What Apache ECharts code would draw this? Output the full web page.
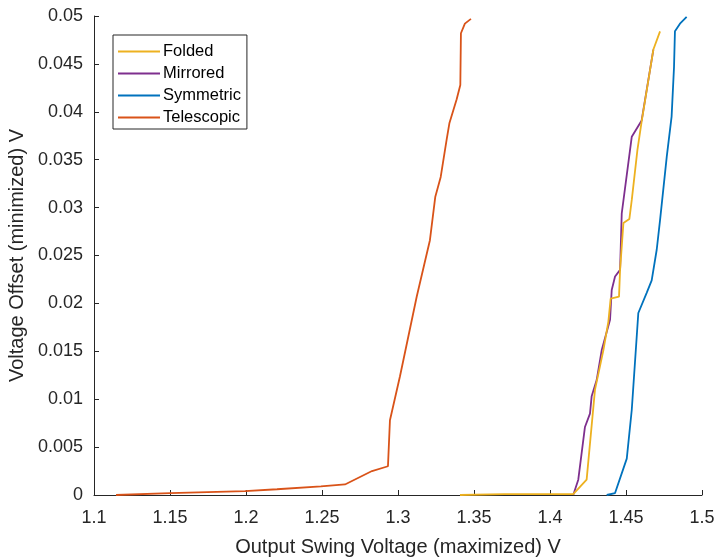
<!DOCTYPE html>
<html>
<head>
<meta charset="utf-8">
<script src="https://cdn.jsdelivr.net/npm/echarts@6/dist/echarts.min.js"></script>
<style>html,body{margin:0;padding:0;background:#fff}#c{width:717px;height:558px}</style>
</head>
<body>
<div id="c"></div>
<script>
const seriesNames = ['Folded', 'Mirrored', 'Symmetric', 'Telescopic'];
const seriesColors = ['#EDB120', '#7E2F8E', '#0072BD', '#D95319'];
const xTicks = [1.1, 1.15, 1.2, 1.25, 1.3, 1.35, 1.4, 1.45, 1.5];
const yTicks = [0, 0.005, 0.01, 0.015, 0.02, 0.025, 0.03, 0.035, 0.04, 0.045, 0.05];

const folded = [
  [1.3408, 0], [1.3700, 0.0001], [1.4153, 0.0001], [1.4241, 0.0016], [1.4296, 0.0110],
  [1.4351, 0.0151], [1.4384, 0.0181], [1.4399, 0.0205], [1.4454, 0.0207], [1.4461, 0.0235],
  [1.4483, 0.0284], [1.4522, 0.0288], [1.4538, 0.0308], [1.4575, 0.0360], [1.4603, 0.0390],
  [1.4680, 0.0465], [1.4724, 0.0484]
];
const mirrored = [
  [1.4153, 0], [1.4186, 0.0016], [1.4230, 0.0071], [1.4263, 0.0085], [1.4274, 0.0103],
  [1.4307, 0.0120], [1.4340, 0.0151], [1.4395, 0.0183], [1.4406, 0.0214], [1.4428, 0.0228],
  [1.4461, 0.0235], [1.4472, 0.0294], [1.4538, 0.0374], [1.4603, 0.0391], [1.4680, 0.0465]
];
const symmetric = [
  [1.4373, 0], [1.4428, 0.0002], [1.4505, 0.0038], [1.4538, 0.0089], [1.4581, 0.0190],
  [1.4636, 0.0211], [1.4669, 0.0224], [1.4702, 0.0256], [1.4724, 0.0287], [1.4768, 0.0353],
  [1.4800, 0.0395], [1.4816, 0.0447], [1.4822, 0.0484], [1.4855, 0.0492], [1.4899, 0.0499]
];
const telescopic = [
  [1.1145, 0], [1.1500, 0.0002], [1.1993, 0.0004], [1.2204, 0.0006], [1.2493, 0.0009],
  [1.2651, 0.0011], [1.2829, 0.0025], [1.2934, 0.0030], [1.2947, 0.0078], [1.3013, 0.0124],
  [1.3123, 0.0207], [1.3210, 0.0266], [1.3245, 0.0311], [1.3281, 0.0332], [1.3320, 0.0371],
  [1.3338, 0.0388], [1.3386, 0.0413], [1.3410, 0.0428], [1.3414, 0.0482], [1.3440, 0.0492],
  [1.3480, 0.0497]
];
const allData = [folded, mirrored, symmetric, telescopic];

const chart = echarts.init(document.getElementById('c'), null, {renderer: 'canvas'});
const axisColor = '#262626';
const font = '"Liberation Sans", Arial, sans-serif';

chart.setOption({
  animation: false,
  backgroundColor: '#fff',
  grid: {left: 94, right: 15, top: 16, bottom: 63, containLabel: false, outerBoundsMode: 'none'},
  legend: {
    orient: 'vertical',
    left: 113, top: 35,
    padding: [8, 6, 3, 5],
    borderColor: axisColor, borderWidth: 1,
    backgroundColor: '#fff',
    itemWidth: 42, itemHeight: 2, itemGap: 5,
    icon: 'rect',
    textStyle: {fontFamily: font, fontSize: 16.5, color: '#000', lineHeight: 17, padding: [0, 0, 0, -2]},
    data: seriesNames
  },
  xAxis: {
    type: 'value', min: 1.1, max: 1.5, interval: 0.05,
    name: 'Output Swing Voltage (maximized) V',
    nameLocation: 'middle', nameGap: 42,
    nameTextStyle: {fontFamily: font, fontSize: 20, color: axisColor},
    axisLine: {show: true, onZero: false, lineStyle: {color: axisColor, width: 1}},
    axisTick: {show: true, inside: true, length: 5, lineStyle: {color: axisColor}},
    axisLabel: {fontFamily: font, fontSize: 18, color: axisColor, margin: 14,
      formatter: v => String(parseFloat(v.toFixed(2)))},
    splitLine: {show: false}
  },
  yAxis: {
    type: 'value', min: 0, max: 0.05, interval: 0.005,
    name: 'Voltage Offset (minimized) V',
    nameLocation: 'middle', nameGap: 60, nameRotate: 90,
    nameTextStyle: {fontFamily: font, fontSize: 20, color: axisColor},
    axisLine: {show: true, lineStyle: {color: axisColor, width: 1}},
    axisTick: {show: true, inside: true, length: 5, lineStyle: {color: axisColor}},
    axisLabel: {fontFamily: font, fontSize: 18, color: axisColor, margin: 11,
      formatter: v => String(parseFloat(v.toFixed(3)))},
    splitLine: {show: false}
  },
  series: seriesNames.map((n, i) => ({
    name: n, type: 'line', data: allData[i],
    symbol: 'none', showSymbol: false,
    lineStyle: {color: seriesColors[i], width: 1.8},
    itemStyle: {color: seriesColors[i]},
    z: 10 - i
  }))
});
</script>
</body>
</html>
